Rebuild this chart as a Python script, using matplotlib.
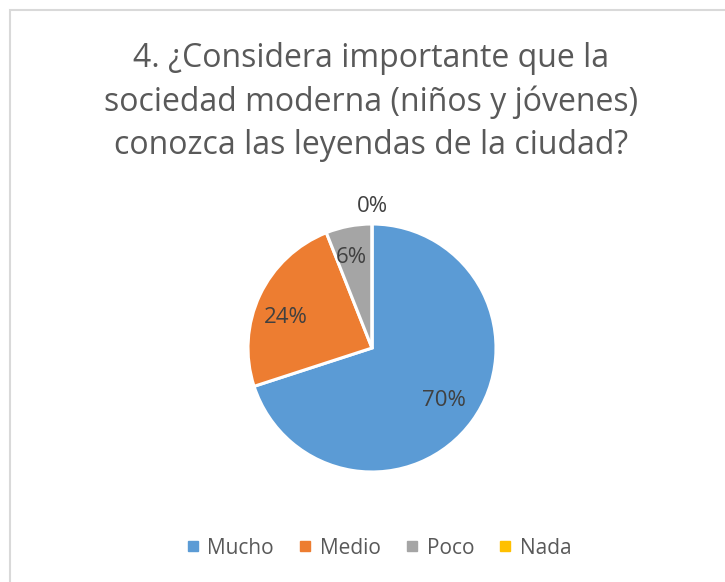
import numpy as np
import matplotlib
matplotlib.use("Agg")
import matplotlib.pyplot as plt
from matplotlib.patches import Rectangle
from matplotlib.lines import Line2D

plt.rcParams['font.family'] = ['Open Sans', 'DejaVu Sans']

title = "4. ¿Considera importante que la\nsociedad moderna (niños y jóvenes)\nconozca las leyendas de la ciudad?"
categories = ["Mucho", "Medio", "Poco", "Nada"]
values = [70, 24, 6, 0]
colors = ["#5B9BD5", "#ED7D31", "#A5A5A5", "#FFC000"]

# label placement: radial distance (in radii) and angular nudge (deg) per slice
label_dist = [0.72, 0.74, 0.75, 1.14]
label_nudge = [0, 6, 2, 0]

W, H = 725, 582
fig = plt.figure(figsize=(W / 100, H / 100), dpi=100)
fig.patch.set_facecolor("white")

# chart-area frame
fig.add_artist(Rectangle((9.5 / W, -0.01), 1.1, (H - 9.5) / H + 0.01,
                         transform=fig.transFigure, fill=False,
                         edgecolor="#D9D9D9", linewidth=1.5))

fig.text(371 / W, 1 - 102 / H, title, ha="center", va="center",
         fontsize=23, color="#595959", linespacing=1.42)

cx, cy, r = 372, 348, 124
ax = fig.add_axes([(cx - r) / W, (H - cy - r) / H, 2 * r / W, 2 * r / H])
ax.pie(values, colors=colors, startangle=90, counterclock=False,
       radius=1, wedgeprops=dict(edgecolor="white", linewidth=2.2))
ax.set_xlim(-1, 1)
ax.set_ylim(-1, 1)
ax.set_aspect("equal")
ax.axis("off")

total = sum(values)
start = 90.0
for v, d, nudge in zip(values, label_dist, label_nudge):
    span = 360.0 * v / total
    mid = np.deg2rad(start - span / 2 + nudge)
    ax.text(d * np.cos(mid), d * np.sin(mid), f"{v}%", ha="center",
            va="center", fontsize=16, color="#404040", clip_on=False)
    start -= span

handles = [Line2D([], [], marker="s", linestyle="none", markersize=7,
                  markerfacecolor=c, markeredgecolor=c) for c in colors]
fig.legend(handles, categories, loc="center", bbox_to_anchor=(377 / W, 1 - 548 / H),
           ncol=4, frameon=False, fontsize=15, labelcolor="#595959",
           handletextpad=0.2, columnspacing=1.0, handlelength=1.0)

fig.savefig("out.png", dpi=100)
